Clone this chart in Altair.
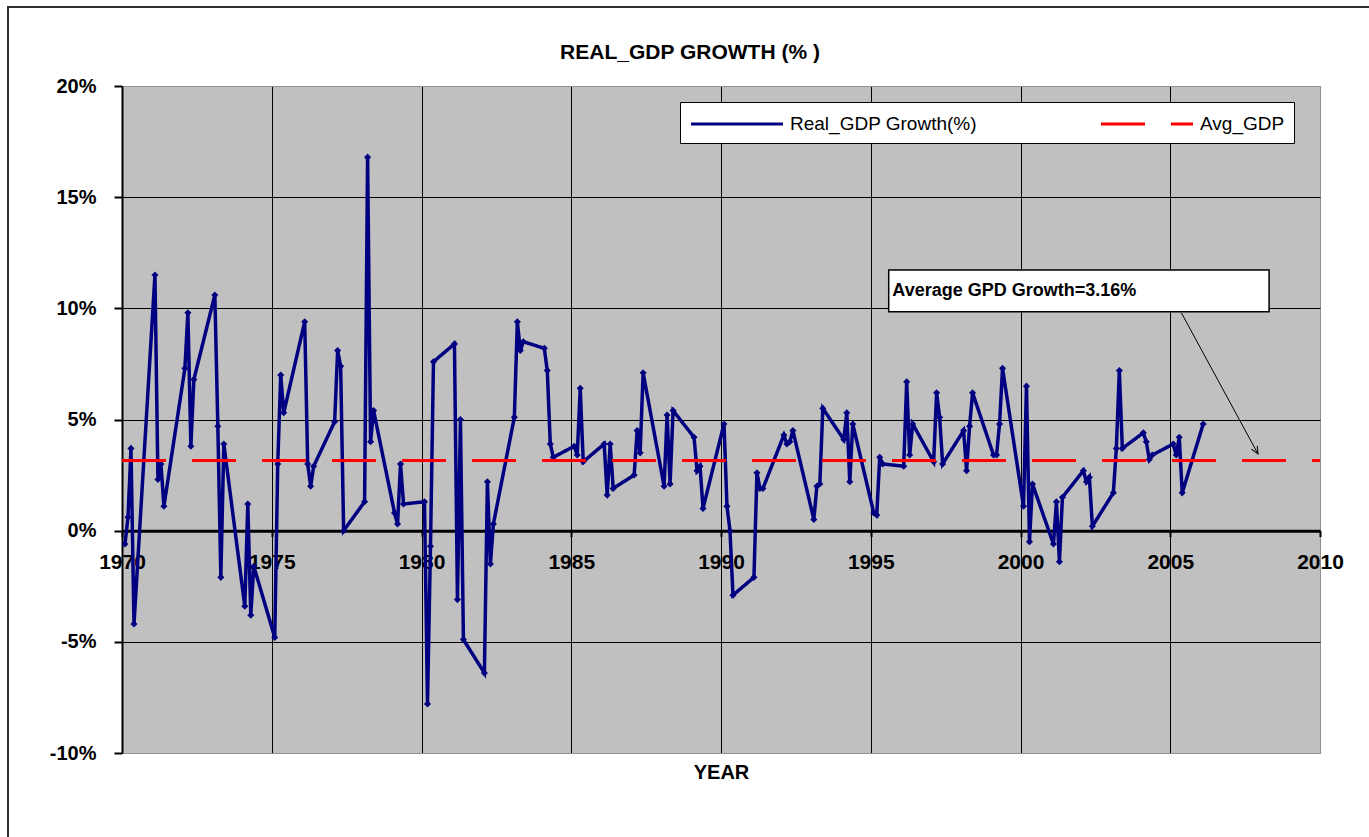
import altair as alt
import pandas as pd

# ---------------- data ----------------
YEARS = list(range(1970, 2007))
QUARTERS = [1, 2, 3, 4]
# quarterly real GDP growth (%), 1970Q1 .. 2006Q1
GROWTH = [
    -0.6, 0.6, 3.7, -4.2,     # 1970
    11.5, 2.3, 3.0, 1.1,      # 1971
    7.3, 9.8, 3.8, 6.8,       # 1972
    10.6, 4.7, -2.1, 3.9,     # 1973
    -3.4, 1.2, -3.8, -1.6,    # 1974
    -4.8, 3.0, 7.0, 5.3,      # 1975
    9.4, 3.0, 2.0, 2.9,       # 1976
    4.9, 8.1, 7.4, 0.0,       # 1977
    1.3, 16.8, 4.0, 5.4,      # 1978
    0.8, 0.3, 3.0, 1.2,       # 1979
    1.3, -7.8, -0.7, 7.6,     # 1980
    8.4, -3.1, 5.0, -4.9,     # 1981
    -6.4, 2.2, -1.5, 0.3,     # 1982
    5.1, 9.4, 8.1, 8.5,       # 1983
    8.2, 7.2, 3.9, 3.3,       # 1984
    3.8, 3.4, 6.4, 3.1,       # 1985
    3.9, 1.6, 3.9, 1.9,       # 1986
    2.5, 4.5, 3.5, 7.1,       # 1987
    2.0, 5.2, 2.1, 5.4,       # 1988
    4.2, 2.7, 2.9, 1.0,       # 1989
    4.8, 1.1, 0.0, -2.9,      # 1990
    -2.1, 2.6, 1.9, 1.9,      # 1991
    4.3, 3.9, 4.0, 4.5,       # 1992
    0.5, 2.0, 2.1, 5.5,       # 1993
    4.1, 5.3, 2.2, 4.8,       # 1994
    0.8, 0.7, 3.3, 3.0,       # 1995
    2.9, 6.7, 3.4, 4.8,       # 1996
    3.1, 6.2, 5.1, 3.0,       # 1997
    4.5, 2.7, 4.7, 6.2,       # 1998
    3.4, 3.4, 4.8, 7.3,       # 1999
    1.1, 6.5, -0.5, 2.1,      # 2000
    -0.6, 1.3, -1.4, 1.5,     # 2001
    2.7, 2.2, 2.4, 0.2,       # 2002
    1.7, 3.7, 7.2, 3.7,       # 2003
    4.4, 4.0, 3.2, 3.4,       # 2004
    3.9, 3.4, 4.2, 1.7,       # 2005
    4.8,                      # 2006
]
AVG_GDP = 3.16
SERIES = ["Real_GDP Growth(%)", "Avg_GDP"]
SERIES_COLORS = ["#000080", "#FF0000"]

X_DOMAIN = [1970, 2010]
Y_DOMAIN = [-10, 20]
X_TICKS = [1970, 1975, 1980, 1985, 1990, 1995, 2000, 2005, 2010]
Y_TICKS = [-10, -5, 0, 5, 10, 15, 20]

TITLE = "REAL_GDP GROWTH (% )"
X_TITLE = "YEAR"
ANNOT_TEXT = "Average GPD Growth=3.16%"
ANNOT_BOX_X = [1995.6, 2008.3]
ANNOT_BOX_Y = [9.85, 11.72]
ANNOT_TEXT_POS = [1995.72, 10.78]
ARROW_X = [2005.37, 2007.93]
ARROW_Y = [9.8, 3.45]

FONT = "Liberation Sans"

# ---------------- tables ----------------
rows = []
i = 0
for yr in YEARS:
    for q in QUARTERS:
        if i < len(GROWTH):
            rows.append({"t": yr + q / 10.0, "g": GROWTH[i], "series": SERIES[0]})
            i += 1
gdp = pd.DataFrame(rows)
avg = pd.DataFrame([{"t": X_DOMAIN[0], "g": AVG_GDP, "series": SERIES[1]},
                    {"t": X_DOMAIN[1], "g": AVG_GDP, "series": SERIES[1]}])
box = pd.DataFrame([{"x1": ANNOT_BOX_X[0], "x2": ANNOT_BOX_X[1],
                     "y1": ANNOT_BOX_Y[0], "y2": ANNOT_BOX_Y[1]}])
label = pd.DataFrame([{"t": ANNOT_TEXT_POS[0], "g": ANNOT_TEXT_POS[1], "txt": ANNOT_TEXT}])
arrow = pd.DataFrame([{"x1": ARROW_X[0], "x2": ARROW_X[1], "y1": ARROW_Y[0], "y2": ARROW_Y[1]}])
tip = pd.DataFrame([{"t": ARROW_X[1], "g": ARROW_Y[1]}])
frame = pd.DataFrame([{"k": 0}])

W, H = 1198, 667
PAD_L, PAD_T = 122, 86
zero_offset = -(H * (0 - Y_DOMAIN[0]) / (Y_DOMAIN[1] - Y_DOMAIN[0]))

xscale = alt.Scale(domain=X_DOMAIN, nice=False, zero=False)
yscale = alt.Scale(domain=Y_DOMAIN, nice=False, zero=False)

grid_color = {"condition": {"test": f"datum.value == {Y_DOMAIN[1]} || datum.value == {Y_DOMAIN[0]}",
                            "value": "#909090"}, "value": "black"}
xgrid_color = {"condition": {"test": f"datum.value == {X_DOMAIN[1]} || datum.value == {X_DOMAIN[0]}",
                             "value": "#909090"}, "value": "black"}

x_enc = alt.X("t:Q", scale=xscale,
              axis=alt.Axis(values=X_TICKS, format="d", offset=zero_offset,
                            title=X_TITLE, titleY=242, titleBaseline="middle",
                            titleFontSize=20, titleFontWeight="bold", titleFont=FONT,
                            titleColor="black",
                            labelFontSize=21, labelFontWeight="bold", labelFont=FONT,
                            labelColor="black", labelFlush=False, labelPadding=15,
                            domainColor="black", domainWidth=3,
                            tickColor="black", tickSize=6, tickWidth=2,
                            grid=True, gridColor=xgrid_color, gridWidth=1))
y_enc = alt.Y("g:Q", scale=yscale,
              axis=alt.Axis(values=Y_TICKS, labelExpr="datum.value + '%'", title=None,
                            labelFontSize=20, labelFontWeight="bold", labelFont=FONT,
                            labelColor="black", labelPadding=18,
                            domainColor="black", domainWidth=2,
                            tickColor="black", tickSize=8, tickWidth=2,
                            grid=True, gridColor=grid_color, gridWidth=1))

color_enc = alt.Color("series:N", scale=alt.Scale(domain=SERIES, range=SERIES_COLORS),
                      legend=alt.Legend(title=None))
dash_enc = alt.StrokeDash("series:N", scale=alt.Scale(domain=SERIES, range=[[1, 0], [44, 26]]),
                          legend=alt.Legend(title=None))

# outer chart-area frame (only its left and top edges fall inside the picture)
frame_mark = alt.Chart(frame).mark_rect(fillOpacity=0, stroke="#303030", strokeWidth=2).encode(
    x=alt.value(8 - PAD_L), x2=alt.value(1400 - PAD_L),
    y=alt.value(7 - PAD_T), y2=alt.value(870 - PAD_T))

line = alt.Chart(gdp).mark_line(
    strokeWidth=3.5,
    point=alt.OverlayMarkDef(shape="diamond", size=50, filled=True, color=SERIES_COLORS[0]),
).encode(x=x_enc, y=y_enc, color=color_enc, strokeDash=dash_enc)

avg_line = alt.Chart(avg).mark_line(strokeWidth=3).encode(
    x=alt.X("t:Q", scale=xscale), y=alt.Y("g:Q", scale=yscale),
    color=color_enc, strokeDash=dash_enc)

box_mark = alt.Chart(box).mark_rect(fill="white", stroke="black", strokeWidth=1.5).encode(
    x=alt.X("x1:Q", scale=xscale), x2="x2:Q",
    y=alt.Y("y1:Q", scale=yscale), y2="y2:Q")

text_mark = alt.Chart(label).mark_text(align="left", baseline="middle", fontSize=18,
                                       fontWeight="bold", font=FONT, color="black").encode(
    x=alt.X("t:Q", scale=xscale), y=alt.Y("g:Q", scale=yscale), text="txt:N")

arrow_mark = alt.Chart(arrow).mark_rule(color="black", strokeWidth=1).encode(
    x=alt.X("x1:Q", scale=xscale), x2="x2:Q",
    y=alt.Y("y1:Q", scale=yscale), y2="y2:Q")

tip_mark = alt.Chart(tip).mark_point(shape="M-0.45,-1L0,0L0.45,-1", size=220, filled=False,
                                     color="black", strokeWidth=1, angle=330.6, opacity=1).encode(
    x=alt.X("t:Q", scale=xscale), y=alt.Y("g:Q", scale=yscale))

chart = alt.layer(line, avg_line, box_mark, text_mark, arrow_mark, tip_mark, frame_mark).properties(
    width=W, height=H,
    background="white",
    title=alt.TitleParams(TITLE, fontSize=21, fontWeight="bold", font=FONT, color="black",
                          anchor="middle", offset=-74, dx=-31, baseline="alphabetic"),
    autosize=alt.AutoSizeParams(type="none"),
    padding={"left": PAD_L, "top": PAD_T, "right": 49, "bottom": 84},
).configure_view(
    fill="#C0C0C0", stroke="#909090", strokeWidth=1
).configure_legend(
    orient="none", legendX=558, legendY=16, direction="horizontal",
    fillColor="white", strokeColor="black", padding=9,
    symbolType="M-4,0L4,0", symbolSize=529, symbolStrokeWidth=3, symbolOffset=35,
    labelFontSize=19, labelFont=FONT, labelColor="black", labelOffset=40,
    labelLimit=400, columnPadding=118,
)

chart.save("out.html", embed_options={"renderer": "svg", "actions": False})
